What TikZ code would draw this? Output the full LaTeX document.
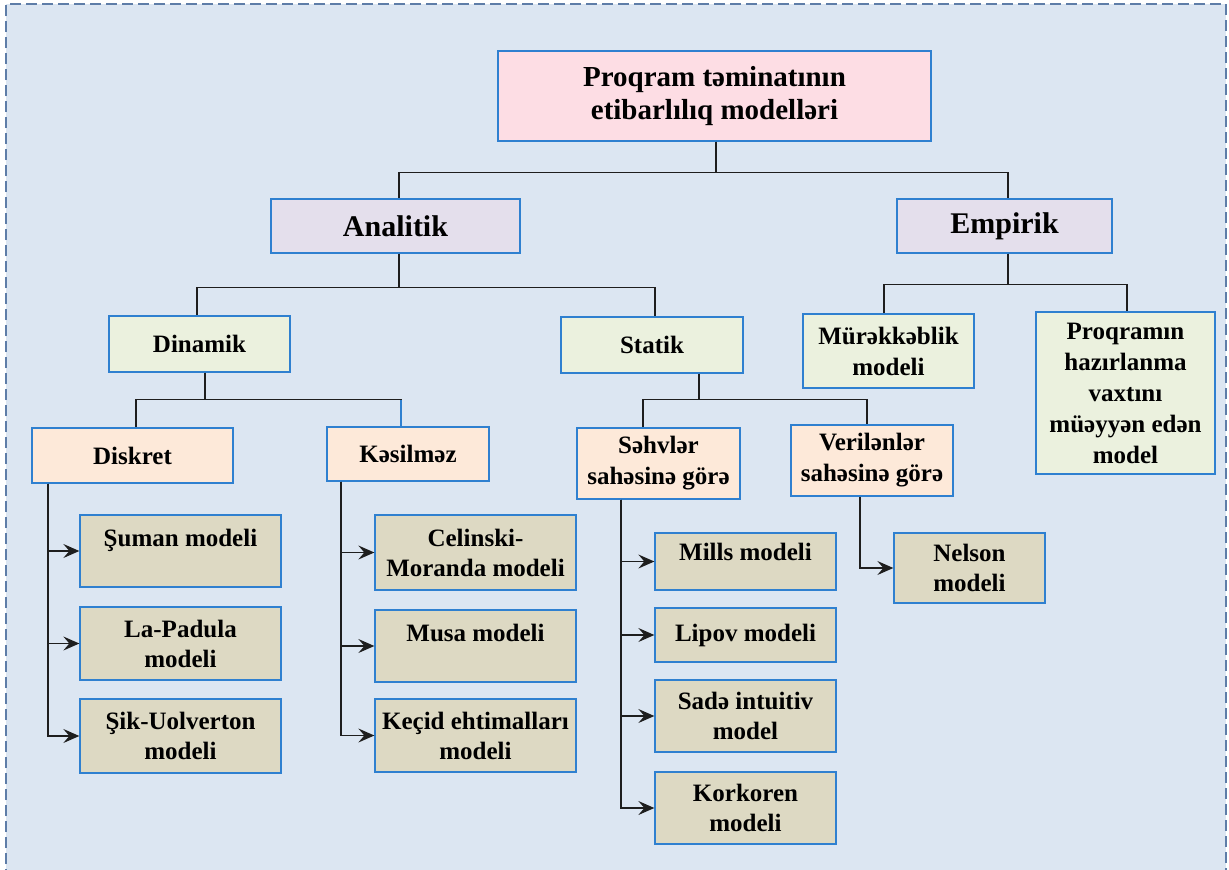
\documentclass[tikz,border=0pt]{standalone}
\usepackage{fontspec}
\setmainfont{Liberation Serif}
\usetikzlibrary{arrows.meta}
\definecolor{bgc}{HTML}{DCE6F2}
\definecolor{dashc}{HTML}{5E7DA8}
\definecolor{bordc}{HTML}{2F80D0}
\definecolor{linec}{HTML}{1E1E1E}
\definecolor{rootc}{HTML}{FDDDE4}
\definecolor{lavc}{HTML}{E4DFEC}
\definecolor{grnc}{HTML}{EBF1DE}
\definecolor{pchc}{HTML}{FDE9D9}
\definecolor{tanc}{HTML}{DDD9C3}
\begin{document}
\begin{tikzpicture}[x=1pt,y=-1pt,
  box/.style={draw=bordc, line width=1.3pt, inner sep=0pt, align=center, text=black,
    font=\bfseries\fontsize{25}{30}\selectfont},
  sz/.style 2 args={minimum width=#1pt, minimum height=#2pt},
  leaf/.style={box, fill=tanc},
  midbox/.style={box, fill=pchc, font=\bfseries\fontsize{25}{31}\selectfont},
  grnbox/.style={box, fill=grnc, font=\bfseries\fontsize{25}{31}\selectfont},
  conn/.style={line width=1.4pt, draw=linec},
  arr/.style={conn, -{Stealth[length=16pt,width=14pt,inset=6pt]}},
]
\useasboundingbox (0,0) rectangle (1229,870);
\fill[white] (0,0) rectangle (1229,870);
\fill[bgc] (6,4) rectangle (1226,880);
\draw[dashc, line width=1.6pt, dash pattern=on 11pt off 5pt] (6,880) -- (6,4) -- (1226,4) -- (1226,880);

% nodes
\node[box, fill=rootc, sz={433}{90}, font=\bfseries\fontsize{29}{33}\selectfont] (root) at (714.5,96) {Proqram təminatının\\etibarlılıq modelləri};
\node[box, fill=lavc, sz={249}{54}, font=\bfseries\fontsize{30}{34}\selectfont] (anal) at (395.5,226) {Analitik};
\node[box, fill=lavc, sz={215}{54}, font=\bfseries\fontsize{30}{34}\selectfont] (emp) at (1004.5,226) {Empirik};

\node[grnbox, sz={181}{56}] (dinamik) at (199.5,344) {Dinamik};
\node[grnbox, sz={182}{56}] (statik) at (652,345) {Statik};
\node[grnbox, sz={171}{74}] (murek) at (888.5,351) {Mürəkkəblik\\modeli};
\node[grnbox, sz={179}{162}] (proq) at (1125.5,393) {Proqramın\\hazırlanma\\vaxtını\\müəyyən edən\\model};

\node[midbox, sz={201}{55}] (diskret) at (132.5,455.5) {Diskret};
\node[midbox, sz={162}{54}] (kesil) at (408,454) {Kəsilməz};
\node[midbox, sz={163}{71}] (sehv) at (658.5,463.5) {Səhvlər\\sahəsinə görə};
\node[midbox, sz={162}{71}] (veril) at (872,460.5) {Verilənlər\\sahəsinə görə};

\node[leaf, sz={201}{72}] (suman) at (180.5,551) {Şuman modeli\\[-4pt]\mbox{}};
\node[leaf, sz={201}{73}] (lapad) at (180.5,643.5) {La-Padula\\modeli};
\node[leaf, sz={201}{74}] (sik) at (180.5,736) {Şik-Uolverton\\modeli};

\node[leaf, sz={201}{75}] (celin) at (475.5,552.5) {Celinski-\\Moranda modeli};
\node[leaf, sz={201}{72}] (musa) at (475.5,646) {Musa modeli\\[-4pt]\mbox{}};
\node[leaf, sz={201}{73}] (kecid) at (475.5,735.5) {Keçid ehtimalları\\modeli};

\node[leaf, sz={181}{57}] (mills) at (745.5,561.5) {Mills modeli\\[-10pt]\mbox{}};
\node[leaf, sz={181}{54}] (lipov) at (745.5,635) {Lipov modeli};
\node[leaf, sz={181}{72}] (sade) at (745.5,716) {Sadə intuitiv\\model};
\node[leaf, sz={181}{72}] (kork) at (745.5,808) {Korkoren\\modeli};

\node[leaf, sz={151}{70}] (nelson) at (969.5,568) {Nelson\\modeli};

% tree connectors
\draw[conn] ([xshift=1.5pt]root.south) -- ++(0,31) -| ([xshift=3.5pt]anal.north);
\draw[conn] ([xshift=1.5pt]root.south) -- ++(0,31) -| ([xshift=3.5pt]emp.north);

\draw[conn] ([xshift=3.5pt]anal.south) -- ++(0,34) -| ([xshift=-2.5pt]dinamik.north);
\draw[conn] ([xshift=3.5pt]anal.south) -- ++(0,34) -| ([xshift=3pt]statik.north);

\draw[conn] ([xshift=3.5pt]emp.south) -- ++(0,31) -| ([xshift=-4.5pt]murek.north);
\draw[conn] ([xshift=3.5pt]emp.south) -- ++(0,31) -| ([xshift=1.5pt]proq.north);

\draw[conn] ([xshift=5.5pt]dinamik.south) -- ++(0,27) -| ([xshift=3.5pt]diskret.north);
\draw[conn] ([xshift=5.5pt]dinamik.south) -- ++(0,27) -| ([xshift=-7pt]kesil.north);
\draw[conn, draw=bordc] ([xshift=-7pt]kesil.north) -- ++(0,-26);

\draw[conn] ([xshift=47pt]statik.south) -- ++(0,26) -| ([xshift=-15.5pt]sehv.north);
\draw[conn] ([xshift=47pt]statik.south) -- ++(0,26) -| ([xshift=-5pt]veril.north);

% arrows to leaves
\draw[arr] ([xshift=-84.5pt]diskret.south) |- (suman.west);
\draw[arr] ([xshift=-84.5pt]diskret.south) |- (lapad.west);
\draw[arr] ([xshift=-84.5pt]diskret.south) |- (sik.west);

\draw[arr] ([xshift=-67pt]kesil.south) |- (celin.west);
\draw[arr] ([xshift=-67pt]kesil.south) |- (musa.west);
\draw[arr] ([xshift=-67pt]kesil.south) |- (kecid.west);

\draw[arr] ([xshift=-37.5pt]sehv.south) |- (mills.west);
\draw[arr] ([xshift=-37.5pt]sehv.south) |- (lipov.west);
\draw[arr] ([xshift=-37.5pt]sehv.south) |- (sade.west);
\draw[arr] ([xshift=-37.5pt]sehv.south) |- (kork.west);

\draw[arr] ([xshift=-12pt]veril.south) |- (nelson.west);
\end{tikzpicture}
\end{document}
